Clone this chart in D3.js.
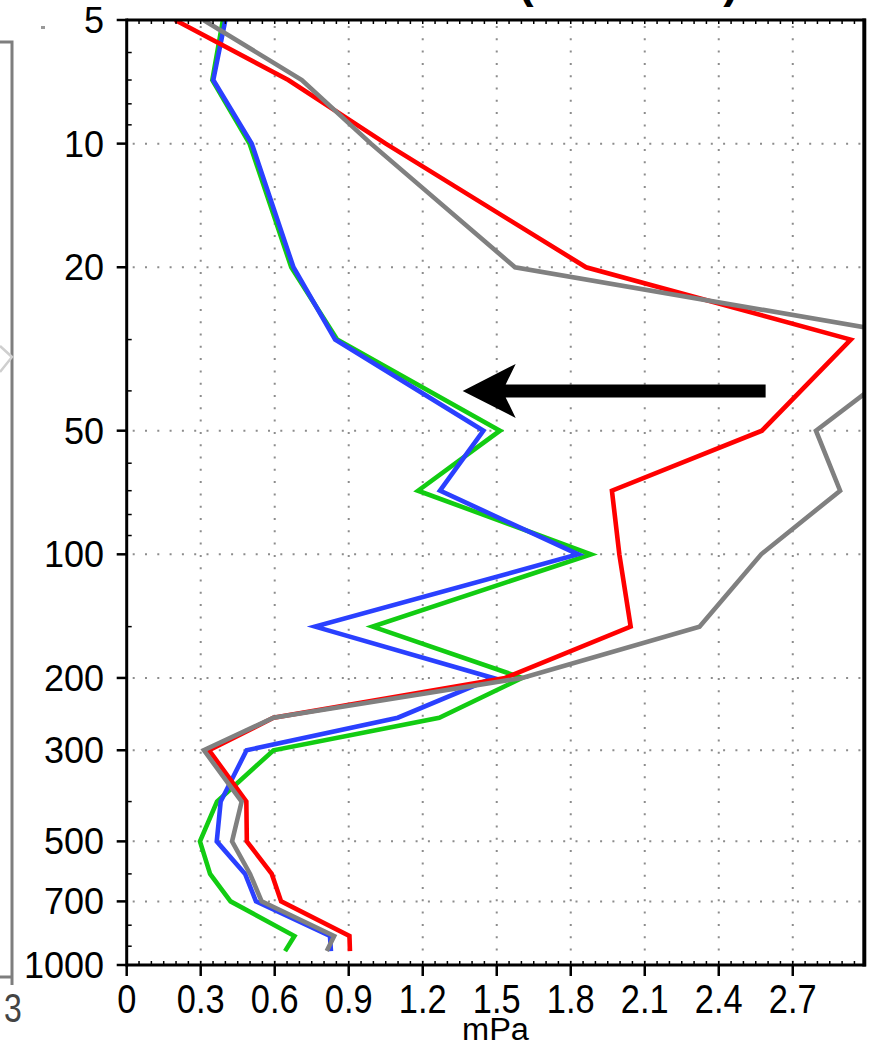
<!DOCTYPE html>
<html>
<head>
<meta charset="utf-8">
<script src="https://cdn.jsdelivr.net/npm/d3@7"></script>
<style>
  html, body { margin: 0; padding: 0; background: #fff; }
  svg { display: block; }
  text { font-family: "Liberation Sans", Arial, sans-serif; }
</style>
</head>
<body>
<svg id="chart" width="872" height="1045"></svg>
<script>
// Pressure levels (hPa) of the profiles
const levels = [5, 7, 10, 20, 30, 50, 70, 100, 150, 200, 250, 300, 400, 500, 600, 700, 850, 925];

// Profile values (mPa) at each level
const greenVals = [0.39, 0.347, 0.498, 0.667, 0.853, 1.513, 1.181, 1.882, 0.997, 1.603, 1.267, 0.595, 0.366, 0.297, 0.338, 0.421, 0.68, 0.642];
const blueVals  = [0.40, 0.351, 0.507, 0.676, 0.845, 1.446, 1.27, 1.83, 0.764, 1.485, 1.099, 0.486, 0.381, 0.365, 0.48, 0.524, 0.824, 0.828];
const redVals   = [0.196, 0.655, 1.05, 1.862, 2.935, 2.575, 1.967, 1.997, 2.043, 1.534, 0.595, 0.334, 0.485, 0.487, 0.588, 0.626, 0.903, 0.905];
const grayVals  = [0.311, 0.71, 0.99, 1.574, 3.28, 2.794, 2.892, 2.572, 2.322, 1.603, 0.595, 0.313, 0.466, 0.427, 0.50, 0.547, 0.841, 0.811];

// Axis ticks
const xTicks = [0, 0.3, 0.6, 0.9, 1.2, 1.5, 1.8, 2.1, 2.4, 2.7];
const xTickLabels = ["0", "0.3", "0.6", "0.9", "1.2", "1.5", "1.8", "2.1", "2.4", "2.7"];
const yTicks = [5, 10, 20, 50, 100, 200, 300, 500, 700, 1000];
const yMinorTicks = [6, 7, 8, 9, 30, 40, 60, 70, 80, 90, 150, 400, 600, 800, 900];

// Arrow annotation: from (value, level) to (value, level)
const arrowFrom = [2.59, 40];
const arrowTo = [1.362, 40];

const series = [
  { name: "green", values: greenVals, color: "#12cc12" },
  { name: "blue",  values: blueVals,  color: "#2a40ff" },
  { name: "red",   values: redVals,   color: "#ff0000" },
  { name: "gray",  values: grayVals,  color: "#808080" }
];

const svg = d3.select("#chart");
const x = d3.scaleLinear().domain([0, 2.99]).range([126.7, 864.3]);
const y = d3.scaleLog().domain([5, 1000]).range([20, 965]);
const [x0, x1] = x.range();
const [y0, y1] = y.range();

// fragments of the neighbouring panel at the left edge
const frag = svg.append("g").attr("fill", "none").attr("stroke", "#7e7e7e").attr("stroke-width", 3);
frag.append("path").attr("d", "M0,42 H12 V985");
frag.append("path").attr("d", "M0,977 H12");
frag.append("path").attr("d", "M0,346 L12,357 L0,372").attr("stroke", "#cfcfcf").attr("stroke-width", 2.5);
svg.append("rect").attr("x", 41).attr("y", 26).attr("width", 4).attr("height", 3).attr("fill", "#999");
svg.append("text")
  .attr("transform", "translate(13,1022) scale(0.8,1)")
  .attr("text-anchor", "middle").attr("font-size", 40).attr("fill", "#444")
  .text("3");

// title, cut off by the top edge
svg.append("text").attr("x", 526).attr("y", -3).attr("text-anchor", "middle")
  .attr("font-size", 46).attr("font-weight", "bold").text("(");
svg.append("text").attr("x", 731).attr("y", -3).attr("text-anchor", "middle")
  .attr("font-size", 46).attr("font-weight", "bold").text(")");

// dotted grid
const grid = svg.append("g").attr("stroke", "#8c8c8c").attr("stroke-width", 2).attr("stroke-dasharray", "2,10.3");
xTicks.filter(d => d > 0).forEach(d => {
  grid.append("line").attr("x1", x(d)).attr("x2", x(d)).attr("y1", y0 + 6).attr("y2", y1);
});
yTicks.filter(d => d > 5 && d < 1000).forEach(d => {
  grid.append("line").attr("x1", x0 + 6).attr("x2", x1).attr("y1", y(d)).attr("y2", y(d));
});

// profiles
const clip = svg.append("clipPath").attr("id", "plotClip");
clip.append("rect").attr("x", x0).attr("y", y0).attr("width", x1 - x0).attr("height", y1 - y0);

const line = d3.line().x(d => x(d[0])).y(d => y(d[1]));
const lines = svg.append("g").attr("clip-path", "url(#plotClip)");
series.forEach(s => {
  lines.append("path")
    .datum(s.values.map((v, i) => [v, levels[i]]))
    .attr("fill", "none")
    .attr("stroke", s.color)
    .attr("stroke-width", 4.6)
    .attr("stroke-linejoin", "miter")
    .attr("d", line);
});

// arrow
{
  const tx = x(arrowTo[0]), ty = y(arrowTo[1]);
  const fx = x(arrowFrom[0]);
  const half = 6.5, headLen = 53, barb = 27, notch = 10;
  const p = [
    [tx, ty],
    [tx + headLen, ty - barb],
    [tx + headLen - notch, ty - half],
    [fx, ty - half],
    [fx, ty + half],
    [tx + headLen - notch, ty + half],
    [tx + headLen, ty + barb]
  ];
  svg.append("path").attr("d", "M" + p.map(q => q.join(",")).join("L") + "Z").attr("fill", "#000");
}

// frame and ticks
const axes = svg.append("g").attr("stroke", "#000");
axes.append("line").attr("x1", x0).attr("x2", x1 + 1.5).attr("y1", y0).attr("y2", y0).attr("stroke-width", 3);
axes.append("line").attr("x1", x0).attr("x2", x1 + 1.5).attr("y1", y1).attr("y2", y1).attr("stroke-width", 3);
axes.append("line").attr("x1", x0).attr("x2", x0).attr("y1", y0 - 1.5).attr("y2", y1 + 1.5).attr("stroke-width", 3);
axes.append("line").attr("x1", x1).attr("x2", x1).attr("y1", y0 - 1.5).attr("y2", y1 + 1.5).attr("stroke-width", 4);

// x minor ticks every 0.05 along top and bottom
d3.range(1, 60).map(i => i * 0.05).forEach(v => {
  axes.append("line").attr("x1", x(v)).attr("x2", x(v)).attr("y1", y0).attr("y2", y0 + 4).attr("stroke-width", 1.5);
  axes.append("line").attr("x1", x(v)).attr("x2", x(v)).attr("y1", y1).attr("y2", y1 - 4).attr("stroke-width", 1.5);
});
// x major ticks and labels
xTicks.forEach((d, i) => {
  axes.append("line").attr("x1", x(d)).attr("x2", x(d)).attr("y1", y1).attr("y2", y1 + 11).attr("stroke-width", 2.5);
  svg.append("text")
    .attr("transform", `translate(${x(d)},1013) scale(0.86,1)`)
    .attr("text-anchor", "middle").attr("font-size", 40).attr("fill", "#000")
    .text(xTickLabels[i]);
});
// y ticks and labels
yMinorTicks.forEach(d => {
  axes.append("line").attr("x1", x0).attr("x2", x0 + 5).attr("y1", y(d)).attr("y2", y(d)).attr("stroke-width", 1.5);
});
yTicks.forEach(d => {
  axes.append("line").attr("x1", x0 - 10).attr("x2", x0).attr("y1", y(d)).attr("y2", y(d)).attr("stroke-width", 2.5);
  svg.append("text")
    .attr("x", 104).attr("y", y(d) + 13)
    .attr("text-anchor", "end").attr("font-size", 36).attr("fill", "#000")
    .text(d);
});

// axis title
svg.append("text")
  .attr("transform", `translate(${(x0 + x1) / 2},1040) scale(1.05,1)`)
  .attr("text-anchor", "middle").attr("font-size", 31).attr("fill", "#000")
  .text("mPa");
</script>
</body>
</html>
